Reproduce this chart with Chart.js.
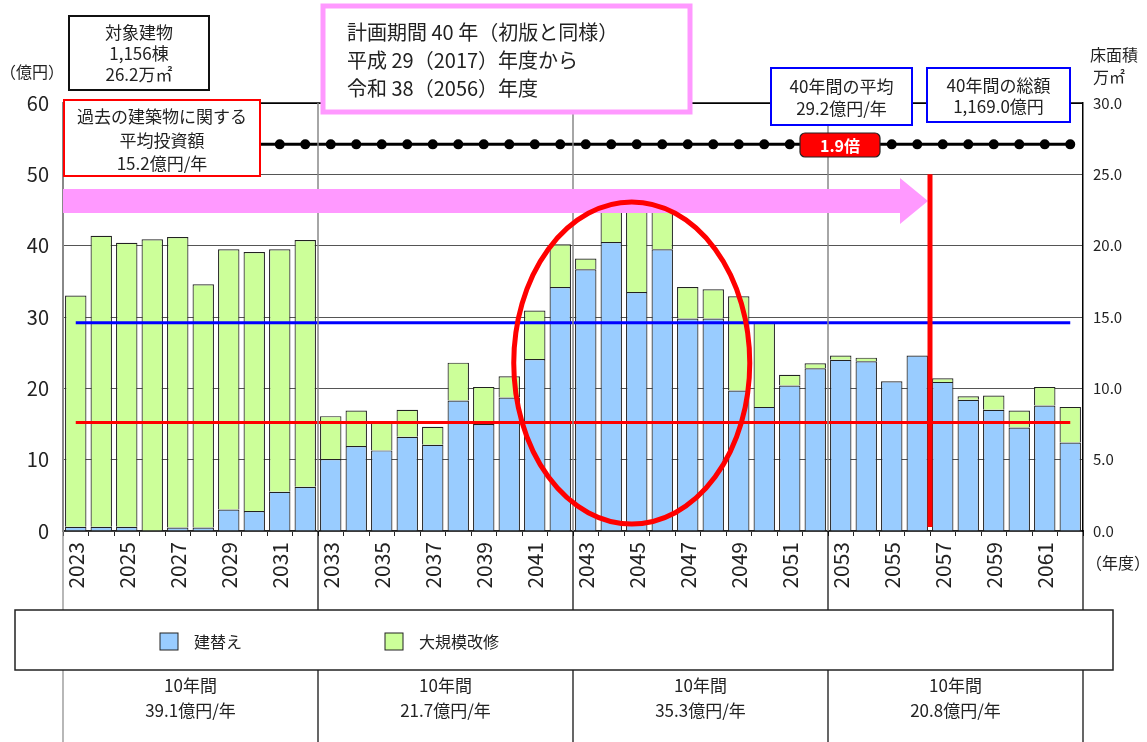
<!DOCTYPE html>
<html>
<head>
<meta charset="utf-8">
<script src="https://cdn.jsdelivr.net/npm/chart.js@4.4.1/dist/chart.umd.min.js"></script>
<style>
html, body { margin: 0; padding: 0; background: #fff; }
canvas { display: block; }
</style>
</head>
<body>
<canvas id="chart" width="1147" height="742"></canvas>
<script>
var years = ['2023','2024','2025','2026','2027','2028','2029','2030','2031','2032',
             '2033','2034','2035','2036','2037','2038','2039','2040','2041','2042',
             '2043','2044','2045','2046','2047','2048','2049','2050','2051','2052',
             '2053','2054','2055','2056','2057','2058','2059','2060','2061','2062'];

// 建替え (億円)
var rebuild = [0.6, 0.6, 0.6, 0.0, 0.5, 0.5, 3.0, 2.8, 5.5, 6.2,
               10.1, 11.9, 11.3, 13.2, 12.1, 18.3, 15.0, 18.7, 24.1, 34.2,
               36.7, 40.5, 33.5, 39.5, 29.8, 29.8, 19.7, 17.4, 20.4, 22.8,
               24.0, 23.8, 21.0, 24.6, 20.9, 18.4, 17.0, 14.5, 17.6, 12.4];

// 大規模改修 (億円)
var renovate = [32.4, 40.8, 39.8, 40.9, 40.7, 34.1, 36.5, 36.3, 34.0, 34.6,
                6.0, 5.0, 4.1, 3.8, 2.5, 5.3, 5.2, 3.0, 6.8, 6.0,
                1.5, 5.3, 14.1, 6.3, 4.4, 4.1, 13.2, 11.8, 1.5, 0.7,
                0.6, 0.5, 0.0, 0.0, 0.5, 0.5, 2.0, 2.4, 2.6, 5.0];

var avg40 = 29.2;      // 40年間の平均
var avgPast = 15.2;    // 過去の平均投資額
var floorArea = 27.1;  // 床面積 (万㎡, 右軸)

var periodTitles = ['10年間', '10年間', '10年間', '10年間'];
var periodAvgs = ['39.1億円/年', '21.7億円/年', '35.3億円/年', '20.8億円/年'];

var FONT = "'Noto Sans CJK JP', 'Noto Sans', sans-serif";

function line(ctx, x1, y1, x2, y2, color, w) {
    ctx.beginPath();
    ctx.moveTo(x1, y1);
    ctx.lineTo(x2, y2);
    ctx.strokeStyle = color;
    ctx.lineWidth = w;
    ctx.stroke();
}

function textBox(ctx, x, y, w, h, border, bw, lines, size, align) {
    ctx.fillStyle = '#fff';
    ctx.fillRect(x, y, w, h);
    ctx.strokeStyle = border;
    ctx.lineWidth = bw;
    ctx.strokeRect(x, y, w, h);
    ctx.fillStyle = '#222';
    ctx.font = size + 'px ' + FONT;
    ctx.textBaseline = 'middle';
    ctx.textAlign = align || 'center';
    lines.forEach(function (l) {
        ctx.fillText(l[0], align === 'left' ? x + l[2] : x + w / 2, l[1]);
    });
}

var overlay = {
    id: 'overlay',
    afterDraw: function (chart) {
        var ctx = chart.ctx;
        var a = chart.chartArea;
        var xs = chart.scales.x;
        var ys = chart.scales.y;
        var half = (xs.getPixelForValue(1) - xs.getPixelForValue(0)) / 2;
        ctx.save();

        // plot top border
        line(ctx, a.left, a.top, a.right, a.top, '#000', 1.5);

        // decade separators
        var seps = [a.left];
        for (var i = 10; i < years.length; i += 10) seps.push(xs.getPixelForValue(i) - half);
        seps.push(a.right);
        seps.forEach(function (px, k) {
            if (k > 0 && k < seps.length - 1) line(ctx, px, a.top, px, a.bottom, '#888', 1.5);
            var c = k === 0 ? '#888' : '#000';
            line(ctx, px, a.bottom, px, 610, c, 1.2);
            line(ctx, px, 670, px, 742, c, 1.2);
        });

        // pink arrow
        var tipX = xs.getPixelForValue(34) - half - 2;
        ctx.fillStyle = '#ff99ff';
        ctx.beginPath();
        ctx.moveTo(a.left, 189);
        ctx.lineTo(tipX - 28, 189);
        ctx.lineTo(tipX - 28, 178);
        ctx.lineTo(tipX, 201);
        ctx.lineTo(tipX - 28, 224);
        ctx.lineTo(tipX - 28, 213);
        ctx.lineTo(a.left, 213);
        ctx.closePath();
        ctx.fill();

        // red vertical at end of plan period
        var vx = xs.getPixelForValue(34) - half;
        line(ctx, vx, ys.getPixelForValue(50), vx, a.bottom - 4, '#ff0000', 5);

        // red ellipse
        ctx.beginPath();
        ctx.ellipse(xs.getPixelForValue(22) - 5, 363, 118, 161, 0, 0, Math.PI * 2);
        ctx.strokeStyle = '#ff0000';
        ctx.lineWidth = 5;
        ctx.stroke();

        // text boxes
        textBox(ctx, 69, 16, 140, 74, '#111', 2,
            [['対象建物', 33], ['1,156棟', 54], ['26.2万㎡', 75]], 17);
        textBox(ctx, 323, 6, 367, 106, '#ff99ff', 5,
            [['計画期間 40 年（初版と同様）', 32, 24], ['平成 29（2017）年度から', 60, 24], ['令和 38（2056）年度', 88, 24]], 20, 'left');
        textBox(ctx, 64, 100, 196, 76, '#ff0000', 2,
            [['過去の建築物に関する', 117], ['平均投資額', 141], ['15.2億円/年', 164]], 17);
        textBox(ctx, 771, 68, 141, 57, '#0000ff', 2,
            [['40年間の平均', 87], ['29.2億円/年', 109]], 17);
        textBox(ctx, 927, 68, 143, 54, '#0000ff', 2,
            [['40年間の総額', 86], ['1,169.0億円', 107]], 17);

        // 1.9倍 badge
        ctx.beginPath();
        ctx.roundRect(800, 133, 80, 24, 5);
        ctx.fillStyle = '#ff0000';
        ctx.fill();
        ctx.strokeStyle = '#222';
        ctx.lineWidth = 1.2;
        ctx.stroke();
        ctx.fillStyle = '#fff';
        ctx.font = 'bold 16px ' + FONT;
        ctx.textAlign = 'center';
        ctx.textBaseline = 'middle';
        ctx.fillText('1.9倍', 840, 146);

        // axis titles
        ctx.fillStyle = '#222';
        ctx.font = '16px ' + FONT;
        ctx.textAlign = 'left';
        ctx.fillText('（億円）', 0, 72);
        ctx.fillText('床面積', 1090, 55);
        ctx.fillText('万㎡', 1093, 77);
        ctx.fillText('（年度）', 1086, 563);

        // legend
        ctx.strokeStyle = '#222';
        ctx.lineWidth = 1.5;
        ctx.strokeRect(15, 610, 1098, 60);
        var items = [[chart.data.datasets[0], 160], [chart.data.datasets[1], 385]];
        items.forEach(function (it) {
            ctx.fillStyle = it[0].backgroundColor;
            ctx.fillRect(it[1], 633, 18, 17);
            ctx.strokeStyle = '#222';
            ctx.lineWidth = 1;
            ctx.strokeRect(it[1], 633, 18, 17);
            ctx.fillStyle = '#222';
            ctx.font = '16px ' + FONT;
            ctx.fillText(it[0].label, it[1] + 34, 642);
        });

        // decade averages
        ctx.textAlign = 'center';
        ctx.font = '17px ' + FONT;
        for (var k = 0; k < periodTitles.length; k++) {
            var cx = (seps[k] + seps[k + 1]) / 2;
            ctx.fillText(periodTitles[k], cx, 686);
            ctx.fillText(periodAvgs[k], cx, 711);
        }
        ctx.restore();
    }
};

new Chart(document.getElementById('chart'), {
    type: 'bar',
    data: {
        labels: years,
        datasets: [
            {
                label: '建替え',
                data: rebuild,
                backgroundColor: '#99ccff',
                borderColor: '#222',
                borderWidth: 1.2,
                stack: 's',
                order: 2
            },
            {
                label: '大規模改修',
                data: renovate,
                backgroundColor: '#ccff99',
                borderColor: '#222',
                borderWidth: 1.2,
                stack: 's',
                order: 2
            },
            {
                type: 'line',
                label: '40年間の平均',
                data: years.map(function () { return avg40; }),
                stack: 'avg40',
                borderColor: '#0000ff',
                borderWidth: 3,
                pointRadius: 0,
                order: 1
            },
            {
                type: 'line',
                label: '過去の平均',
                data: years.map(function () { return avgPast; }),
                stack: 'avgPast',
                borderColor: '#ff0000',
                borderWidth: 3,
                pointRadius: 0,
                order: 1
            },
            {
                type: 'line',
                label: '床面積',
                data: years.map(function () { return floorArea; }),
                yAxisID: 'y1',
                borderColor: '#000',
                borderWidth: 3,
                pointRadius: 3.5,
                pointBackgroundColor: '#000',
                pointBorderColor: '#000',
                order: 1
            }
        ]
    },
    options: {
        responsive: false,
        animation: false,
        layout: { padding: { top: 103, left: 0, right: 0, bottom: 0 } },
        plugins: {
            legend: { display: false },
            tooltip: { enabled: false }
        },
        datasets: {
            bar: { categoryPercentage: 1, barPercentage: 0.84 }
        },
        scales: {
            x: {
                stacked: true,
                offset: true,
                grid: {
                    offset: true,
                    drawOnChartArea: false,
                    drawTicks: true,
                    tickLength: 5,
                    tickColor: '#222'
                },
                border: { color: '#222', width: 1.5 },
                ticks: {
                    autoSkip: false,
                    minRotation: 90,
                    maxRotation: 90,
                    padding: 6,
                    color: '#222',
                    font: { family: FONT, size: 21 },
                    callback: function (v, i) { return i % 2 === 0 ? years[i] : ''; }
                },
                afterFit: function (s) { s.height = 211; }
            },
            y: {
                stacked: true,
                min: 0,
                max: 60,
                ticks: {
                    stepSize: 10,
                    padding: 14,
                    color: '#222',
                    font: { family: FONT, size: 20 }
                },
                grid: {
                    drawTicks: false,
                    color: function (c) { return c.tick.value === 60 ? '#000' : '#555'; },
                    lineWidth: 1
                },
                border: { color: '#888', width: 2 },
                afterFit: function (s) { s.width = 63; }
            },
            y1: {
                position: 'right',
                min: 0,
                max: 30,
                ticks: {
                    stepSize: 5,
                    padding: 10,
                    color: '#222',
                    font: { family: FONT, size: 15 },
                    callback: function (v) { return v.toFixed(1); }
                },
                grid: { drawOnChartArea: false, drawTicks: false },
                border: { color: '#000', width: 1.5 },
                afterFit: function (s) { s.width = 64; }
            }
        }
    },
    plugins: [overlay]
});
</script>
</body>
</html>
